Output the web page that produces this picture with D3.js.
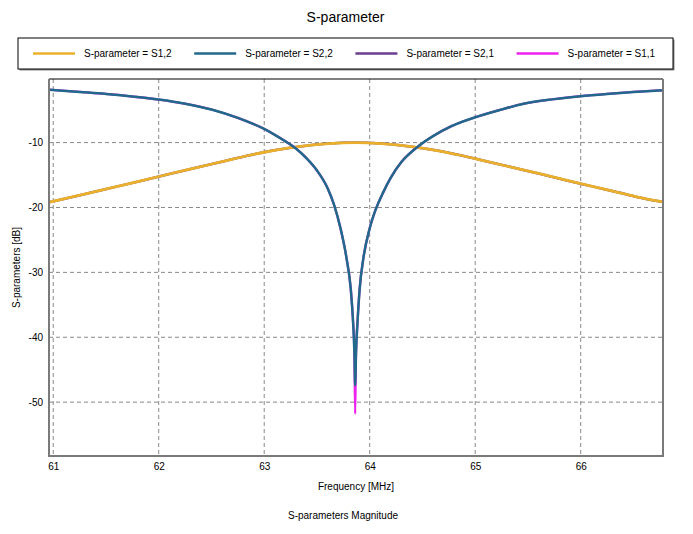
<!DOCTYPE html>
<html>
<head>
<meta charset="utf-8">
<script src="https://cdn.jsdelivr.net/npm/d3@7"></script>
<style>
  html, body { margin: 0; padding: 0; background: #fff; }
  text { font-family: "Liberation Sans", Arial, sans-serif; fill: #000; }
</style>
</head>
<body>
<svg id="chart" width="693" height="534"></svg>
<script>
// ---- data ----
const xTicks = [61, 62, 63, 64, 65, 66];
const yTicks = [-10, -20, -30, -40, -50];
const seriesNames = ["S-parameter = S1,2", "S-parameter = S2,2", "S-parameter = S2,1", "S-parameter = S1,1"];
const seriesColors = ["#EAB02C", "#21698A", "#6B3D8F", "#EE22EE"];

// S1,2 and S2,1 (transmission) – identical
const freqT = [60.96, 61.11, 61.36, 61.61, 61.86, 62.11, 62.36, 62.61, 62.86, 63.11, 63.36, 63.61, 63.86, 64.11, 64.36, 64.61, 64.86, 65.11, 65.36, 65.61, 65.86, 66.11, 66.36, 66.61, 66.78];
const s12 = [-19.2, -18.65, -17.7, -16.75, -15.8, -14.8, -13.85, -12.9, -11.95, -11.15, -10.55, -10.15, -10.0, -10.15, -10.55, -11.15, -11.95, -12.9, -13.85, -14.8, -15.8, -16.75, -17.7, -18.65, -19.15];
const s21 = [-19.2, -18.65, -17.7, -16.75, -15.8, -14.8, -13.85, -12.9, -11.95, -11.15, -10.55, -10.15, -10.0, -10.15, -10.55, -11.15, -11.95, -12.9, -13.85, -14.8, -15.8, -16.75, -17.7, -18.65, -19.15];

// S2,2 and S1,1 (reflection)
const freqR = [60.96, 61.25, 61.5, 61.75, 62.0, 62.25, 62.5, 62.75, 63.0, 63.1, 63.2, 63.3, 63.4, 63.5, 63.6, 63.66, 63.72, 63.78, 63.82, 63.84, 63.855, 63.862, 63.87, 63.885, 63.905, 63.94, 64.0, 64.05, 64.13, 64.2, 64.3, 64.45, 64.6, 64.77, 65.0, 65.25, 65.46, 65.75, 66.0, 66.25, 66.5, 66.78];
const s22 = [-1.85, -2.2, -2.5, -2.9, -3.37, -4.0, -4.9, -6.2, -7.9, -8.8, -9.8, -10.9, -12.4, -14.3, -17.0, -19.5, -23.0, -27.8, -32.5, -37.0, -42.5, -47.4, -42.5, -37.5, -32.5, -27.8, -23.2, -20.6, -17.6, -15.4, -13.0, -10.7, -9.0, -7.5, -6.1, -4.9, -4.0, -3.3, -2.85, -2.5, -2.2, -1.93];
const s11 = [-1.85, -2.2, -2.5, -2.9, -3.37, -4.0, -4.9, -6.2, -7.9, -8.8, -9.8, -10.9, -12.4, -14.3, -17.0, -19.5, -23.0, -27.8, -32.5, -37.0, -42.5, -51.8, -42.5, -37.5, -32.5, -27.8, -23.2, -20.6, -17.6, -15.4, -13.0, -10.7, -9.0, -7.5, -6.1, -4.9, -4.0, -3.3, -2.85, -2.5, -2.2, -1.93];

// ---- layout ----
const W = 693, H = 534;
const plot = { left: 49, right: 663, top: 79, bottom: 456 };
const svg = d3.select("#chart");

const x = d3.scaleLinear().domain([60.96, 66.78]).range([plot.left, plot.right]);
const y = d3.scaleLinear().domain([-58.3, -0.2]).range([plot.bottom, plot.top]);

// title
svg.append("text").attr("x", W / 2 - 1).attr("y", 22).attr("text-anchor", "middle")
  .style("font-size", "14px").text("S-parameter");

// legend box
const lg = { x: 18, y: 38, w: 655, h: 31 };
svg.append("rect").attr("x", lg.x + 1.5).attr("y", lg.y + 1.5).attr("width", lg.w).attr("height", lg.h)
  .attr("fill", "#888");
svg.append("rect").attr("x", lg.x).attr("y", lg.y).attr("width", lg.w).attr("height", lg.h)
  .attr("fill", "#fff").attr("stroke", "#000").attr("stroke-width", 1);
const legItems = svg.append("g").selectAll("g").data(seriesNames).join("g")
  .attr("transform", (d, i) => `translate(${33 + i * 161.2},${lg.y + lg.h / 2})`);
legItems.append("line").attr("x1", 0).attr("x2", 42).attr("y1", 0).attr("y2", 0)
  .attr("stroke", (d, i) => seriesColors[i]).attr("stroke-width", 2.5);
legItems.append("text").attr("x", 51).attr("y", 0).attr("dy", "0.35em")
  .style("font-size", "10px").text(d => d);

// grid
const grid = svg.append("g");
grid.selectAll("line.v").data(xTicks).join("line").attr("class", "v")
  .attr("x1", d => x(d)).attr("x2", d => x(d)).attr("y1", plot.top).attr("y2", plot.bottom)
  .attr("stroke", "#888").attr("stroke-dasharray", "4,3").attr("stroke-width", 1);
grid.selectAll("line.h").data(yTicks).join("line").attr("class", "h")
  .attr("x1", plot.left).attr("x2", plot.right).attr("y1", d => y(d)).attr("y2", d => y(d))
  .attr("stroke", "#888").attr("stroke-dasharray", "4,3").attr("stroke-width", 1);

// axes (labels only, via d3 axes)
const xAxis = d3.axisBottom(x).tickValues(xTicks).tickSize(0).tickPadding(6).tickFormat(d => String(d));
const gx = svg.append("g").attr("transform", `translate(0,${plot.bottom + 1})`).call(xAxis);
gx.select(".domain").remove();
gx.selectAll("text").style("font-size", "10px").style("font-family", "Liberation Sans, Arial, sans-serif");

const yAxis = d3.axisLeft(y).tickValues(yTicks).tickSize(0).tickPadding(6).tickFormat(d => String(d));
const gy = svg.append("g").attr("transform", `translate(${plot.left},0)`).call(yAxis);
gy.select(".domain").remove();
gy.selectAll("text").style("font-size", "10px").style("font-family", "Liberation Sans, Arial, sans-serif");

// curves
const line = d3.line().x(d => x(d[0])).y(d => y(d[1])).curve(d3.curveMonotoneX);
const clip = svg.append("clipPath").attr("id", "clip").append("rect")
  .attr("x", plot.left).attr("y", plot.top).attr("width", plot.right - plot.left).attr("height", plot.bottom - plot.top);
const curves = svg.append("g").attr("clip-path", "url(#clip)");
const draw = (fr, vals, color, w) => curves.append("path")
  .attr("d", line(fr.map((f, i) => [f, vals[i]])))
  .attr("fill", "none").attr("stroke", color).attr("stroke-width", w).attr("stroke-linejoin", "round");
draw(freqT, s21, seriesColors[2], 2.5);
draw(freqT, s12, seriesColors[0], 2.8);
draw(freqR, s11, seriesColors[3], 2.3);
draw(freqR, s22, seriesColors[1], 2.5);

// frame
svg.append("line").attr("x1", plot.left).attr("x2", plot.right).attr("y1", plot.top).attr("y2", plot.top)
  .attr("stroke", "#000").attr("stroke-width", 1);
svg.append("path")
  .attr("d", `M${plot.left},${plot.top} V${plot.bottom} H${plot.right} V${plot.top}`)
  .attr("fill", "none").attr("stroke", "#7a7a7a").attr("stroke-width", 2);

// axis titles
svg.append("text").attr("x", (plot.left + plot.right) / 2).attr("y", 490).attr("text-anchor", "middle")
  .style("font-size", "10px").text("Frequency [MHz]");
svg.append("text").attr("x", (plot.left + plot.right) / 2 - 13).attr("y", 519).attr("text-anchor", "middle")
  .style("font-size", "10px").text("S-parameters Magnitude");
svg.append("text").attr("transform", `translate(20,${(plot.top + plot.bottom) / 2}) rotate(-90)`)
  .attr("text-anchor", "middle").style("font-size", "10px").text("S-parameters [dB]");
</script>
</body>
</html>
